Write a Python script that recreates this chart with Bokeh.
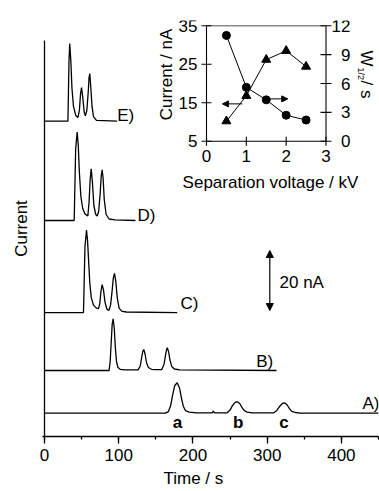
import numpy as np
from bokeh.plotting import figure
from bokeh.models import (Range1d, Label, Arrow, NormalHead, SingleIntervalTicker,
                          LinearAxis, FixedTicker, Title)
from bokeh.embed import file_html
from bokeh.resources import INLINE

# ---------------- data ----------------
trace_labels = ["A)", "B)", "C)", "D)", "E)"]
baseline_nA = [7.8, 22.0, 41.3, 72.0, 105.1]

time_A = [0, 163, 167, 170, 173, 175.5, 178.8, 182, 184.5, 187, 190, 195, 205, 226, 227.5, 229,
          246, 250, 253, 256.5, 259.6, 263, 266, 269, 273, 280, 309, 313, 317, 320.5, 323.8,
          327, 330, 333, 338, 345, 450]
signal_A = [0, 0, 0.5, 2.5, 6.5, 9.2, 10.1, 8.3, 5.0, 2.3, 0.8, 0.3, 0.1, 0.1, 0.7, 0.1,
            0.1, 1.0, 2.4, 3.5, 3.8, 3.2, 1.9, 0.9, 0.3, 0.1, 0.1, 0.9, 2.3, 3.2, 3.4,
            2.7, 1.5, 0.6, 0.2, 0, 0]

time_B = [0, 87, 88.5, 90, 91.2, 92.5, 94, 95.5, 97, 99, 102, 108, 126, 129, 131, 132.5, 133.8,
          135.5, 137.5, 140, 144, 150, 158, 161, 163.5, 165.3, 167, 169, 171.5, 175, 182, 312.6]
signal_B = [0, 0, 3, 10, 15.5, 17.2, 14, 7.5, 3, 1, 0.4, 0.2, 0.2, 1.5, 4.5, 6.5, 7.0,
            5.5, 2.5, 1, 0.4, 0.3, 0.3, 2.0, 5.8, 7.6, 6.5, 3.5, 1.3, 0.5, 0.2, 0]

time_C = [0, 52.5, 53, 54.5, 56.6, 58, 59.5, 61, 63, 66, 70, 72.8, 74.5, 76, 77.7, 79.5, 81.5,
          84, 86.7, 89, 91, 92.7, 94.3, 96, 98, 100.5, 104, 110, 178.8]
signal_C = [0, 0, 5, 22, 27.5, 24, 17, 10, 5, 2.5, 1.5, 1.3, 3, 7, 9.3, 7.5, 3.5,
            1.2, 0.7, 2.5, 7, 11.5, 13.1, 10.5, 5, 1.5, 0.5, 0.2, 0]

time_D = [0, 40, 40.5, 42, 44, 45.5, 47, 49, 51.5, 54.5, 58.4, 60, 61.5, 62.9, 64.5, 66.5, 69,
          71, 73, 75, 76.5, 77.7, 79, 80.5, 83, 87, 95, 122.6]
signal_D = [0, 0, 6, 24, 29.5, 25, 16, 8, 4, 2.2, 1.5, 6, 13.5, 17.2, 13, 5, 2,
            1.5, 3, 9, 15, 16.9, 14, 7, 2, 0.5, 0.2, 0]

time_E = [0, 31.5, 32, 33, 34, 35.5, 37, 39, 42, 45, 47, 48.5, 49.9, 51.5, 53.5, 55, 57, 59,
          60, 61, 62.5, 64, 66, 70, 97.9]
signal_E = [0, 0, 6, 20, 25.9, 20, 11, 5, 2, 1.2, 3.5, 9, 11.2, 8, 3, 1.8, 3.5, 10,
            14.5, 15.9, 11, 5, 1.5, 0.3, 0]

peak_labels = ["a", "b", "c"]
peak_label_time = [179.0, 261.0, 322.5]

time_ticks = [0, 100, 200, 300, 400]
scale_bar_nA = 20

voltage_kV = [0.5, 1.0, 1.5, 2.0, 2.5]
inset_current_nA = [10.2, 16.8, 26.2, 28.5, 24.4]
inset_w_half_s = [11.0, 5.6, 4.3, 2.7, 2.2]
inset_current_ticks = [5, 15, 25, 35]
inset_w_ticks = [0, 3, 6, 9, 12]
inset_kV_ticks = [0, 1, 2, 3]

# ---------------- layout ----------------
FONT = "Liberation Sans"
W, H = 379, 491
FL, FR, FT, FB = 42, 378, 20, 436   # frame box in px
T0PX = 44
PX_PER_S = (378 - T0PX) / 450.0
PX_PER_NA = 3.0


def tx(px):
    return (px - T0PX) / PX_PER_S


def ty(py):
    return (FB - py) / PX_PER_NA


# inset box in px
IL, IR, IT, IB = 206, 325.5, 25.3, 140.7
kv_pp = (IR - IL) / 3.0
cur_pp = (IB - IT) / 30.0
w_pp = (IB - IT) / 12.0


def kx(v):
    return IL + v * kv_pp


def cy(v):
    return IB - (v - 5) * cur_pp


def wy(v):
    return IB - v * w_pp


p = figure(width=W, height=H, output_backend="svg", toolbar_location=None,
           x_range=Range1d(tx(FL), 450), y_range=Range1d(0, ty(FT)),
           y_axis_location=None,
           min_border_left=FL, min_border_right=W - FR, min_border_top=FT,
           min_border_bottom=H - FB)
p.outline_line_color = None
p.grid.visible = False
p.background_fill_color = "white"
p.border_fill_color = "white"

p.extra_x_ranges = {"kv": Range1d(-(IL - FL) / kv_pp, 3 + (FR - IR) / kv_pp)}
p.extra_y_ranges = {
    "cur": Range1d(5 - (FB - IB) / cur_pp, 35 + (IT - FT) / cur_pp),
    "w": Range1d(-(FB - IB) / w_pp, 12 + (IT - FT) / w_pp),
}

# x axis
ax = p.xaxis[0]
ax.ticker = SingleIntervalTicker(interval=100, num_minor_ticks=2)
ax.axis_line_width = 1.3
ax.axis_line_color = "black"
ax.major_tick_line_color = "black"
ax.major_tick_line_width = 1.3
ax.minor_tick_line_color = "black"
ax.minor_tick_line_width = 1.3
ax.major_tick_out = 7
ax.major_tick_in = 0
ax.minor_tick_out = 3
ax.minor_tick_in = 0
ax.major_label_text_font = FONT
ax.major_label_text_font_size = "17px"
ax.major_label_text_color = "black"
ax.major_label_standoff = 5

# x axis title, placed below the axis
p.add_layout(Title(text="Time / s", align="left", offset=121, text_font=FONT,
                   text_font_size="17px", text_font_style="normal", text_color="black",
                   standoff=6), "below")

# left axis: only its title ("Current")
yax = LinearAxis(ticker=FixedTicker(ticks=[]), axis_label="Current",
                 axis_line_color=None, major_tick_line_color=None,
                 minor_tick_line_color=None, major_tick_out=0, minor_tick_out=0,
                 axis_label_text_font=FONT, axis_label_text_font_size="17px",
                 axis_label_text_font_style="normal", axis_label_text_color="black",
                 axis_label_standoff=12)
p.add_layout(yax, "left")

# left spine of the main plot
p.segment(x0=[0], y0=[ty(443)], x1=[0], y1=[ty(40)], line_color="black", line_width=1.3)

# traces
times = [time_A, time_B, time_C, time_D, time_E]
signals = [signal_A, signal_B, signal_C, signal_D, signal_E]
for t, s, b in zip(times, signals, baseline_nA):
    p.line(np.array(t), np.array(s) + b, line_color="black", line_width=1.3)


def lab(text, px, py, align="left", baseline="middle", size="17px", angle=0.0, bold=False):
    p.add_layout(Label(x=tx(px), y=ty(py), text=text, text_align=align,
                       text_baseline=baseline, text_font=FONT, text_font_size=size,
                       angle=angle, text_font_style="bold" if bold else "normal",
                       text_color="black"))


# trace labels
trace_label_px = [(362, 402.7), (255.7, 361), (180, 303), (137, 215), (116.7, 115)]
for txt, (px, py) in zip(trace_labels, trace_label_px):
    lab(txt, px, py)

# peak labels
for txt, t in zip(peak_labels, peak_label_time):
    lab(txt, T0PX + t * PX_PER_S, 421.7, align="center", bold=True)

# scale bar
bar_t = tx(269.3)
bar_y0 = ty(310)
p.add_layout(Arrow(start=NormalHead(size=7, fill_color="black", line_color="black", line_width=1),
                   end=NormalHead(size=7, fill_color="black", line_color="black", line_width=1),
                   x_start=bar_t, y_start=bar_y0, x_end=bar_t, y_end=bar_y0 + scale_bar_nA,
                   line_color="black", line_width=1.2))
lab(f"{scale_bar_nA} nA", 279, 281.7)

# ---------------- inset ----------------
R = dict(x_range_name="kv", y_range_name="cur")
RW = dict(x_range_name="kv", y_range_name="w")

p.segment(x0=[0, 3, 0], y0=[5, 5, 5], x1=[0, 3, 3], y1=[35, 35, 5],
          line_color="black", line_width=1.1, **R)
p.segment(x0=[0], y0=[35], x1=[3], y1=[35], line_color="#8a8a8a", line_width=1.5, **R)

p.scatter(x=[0] * len(inset_current_ticks), y=inset_current_ticks, marker="dash", size=10,
          line_color="black", line_width=1.1, **R)
p.scatter(x=[3] * len(inset_w_ticks), y=inset_w_ticks, marker="dash", size=11,
          line_color="black", line_width=1.1, **RW)
p.scatter(x=inset_kV_ticks, y=[5] * len(inset_kV_ticks), marker="dash", size=9,
          angle=np.pi / 2, line_color="black", line_width=1.1, **R)

p.line(voltage_kV, inset_current_nA, line_color="black", line_width=1, **R)
p.scatter(voltage_kV, inset_current_nA, marker="triangle", size=9, color="black", **R)
p.line(voltage_kV, inset_w_half_s, line_color="black", line_width=1, **RW)
p.scatter(voltage_kV, inset_w_half_s, marker="circle", size=8, color="black", **RW)

p.add_layout(Arrow(end=NormalHead(size=6, fill_color="black", line_color="black", line_width=1),
                   x_start=0.9, y_start=14.7, x_end=0.4, y_end=14.7,
                   line_color="black", line_width=1, **R))
p.add_layout(Arrow(end=NormalHead(size=6, fill_color="black", line_color="black", line_width=1),
                   x_start=1.56, y_start=4.4, x_end=2.04, y_end=4.4,
                   line_color="black", line_width=1, **RW))

for v in inset_current_ticks:
    lab(str(v), 197, cy(v), align="right")
for v in inset_w_ticks:
    lab(str(v), 350, wy(v), align="right")
for v in inset_kV_ticks:
    lab(str(v), kx(v), 155, align="center")

lab("Separation voltage / kV", 270, 182, align="center")
lab("Current / nA", 166, 74, align="center", angle=np.pi / 2)
lab("W", 366, 50, align="left", angle=-np.pi / 2)
lab("1/2", 360.5, 67, align="left", size="9px", angle=-np.pi / 2)
lab("/ s", 366, 80, align="left", angle=-np.pi / 2)

open("out.html", "w").write(file_html(p, INLINE))
